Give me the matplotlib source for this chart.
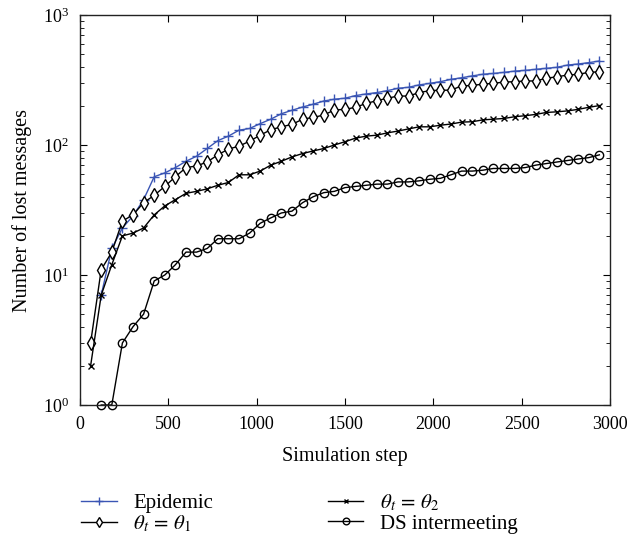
import numpy as np
import matplotlib
matplotlib.use("Agg")
import matplotlib.pyplot as plt

plt.rcParams['font.family'] = ['Liberation Serif', 'DejaVu Serif']
plt.rcParams['mathtext.fontset'] = 'stix'

steps = np.arange(60, 2941, 60)

epidemic = [np.nan, 7, 16, 23, 28.5, 38, 57, 61, 67, 75,
            82, 94, 108, 117, 130, 134, 146, 158, 174, 185,
            196, 206, 218, 225, 229, 240, 247, 253, 262, 273,
            278, 290, 298, 307, 320, 329, 340, 350, 355, 362,
            370, 375, 382, 389, 396, 412, 420, 430, 443]

theta1 = [3, 11, 15, 26, 29, 36, 41, 48, 57, 67,
          69, 74, 84, 93, 98, 107, 119, 131, 138, 144,
          158, 163, 170, 186, 188, 195, 209, 219, 229, 238,
          238, 253, 262, 264, 264, 285, 287, 294, 298, 305,
          307, 311, 311, 326, 335, 345, 350, 362, 366]

theta2 = [2, 7, 12, 20, 21, 23, 29, 34, 38, 42.5,
          44, 46, 49, 51.5, 59, 59, 63, 70, 75, 81,
          86, 90, 94, 100, 106, 113, 117, 119, 124, 128,
          133, 138, 138, 142, 145, 150, 151, 156, 158, 160,
          165, 168, 172, 178, 180, 183, 188, 195, 201]

ds_inter = [np.nan, 1, 1, 3, 4, 5, 9, 10, 12, 15,
            15, 16, 19, 19, 19, 21, 25, 27.5, 30, 31,
            36, 40, 43, 44, 47, 48, 49, 50, 50, 52,
            52, 53, 54.5, 55.4, 59, 63, 63, 64, 66, 66,
            66, 67, 70, 72, 74, 76, 78, 80, 84]

labels = ['Epidemic', r'$\theta_t\,=\,\theta_1$', r'$\theta_t\,=\,\theta_2$', 'DS intermeeting']

fig = plt.figure(figsize=(6.3, 5.42), dpi=100)
ax = fig.add_axes([80/630, 1-405/542, 530/630, 390/542])

blue = '#3a55b4'
l1, = ax.plot(steps, epidemic, color=blue, marker='+', ms=6.5, mew=1.0, lw=1.0, label=labels[0])
l2, = ax.plot(steps, theta1, color='black', marker='d', ms=7, mfc='white', mew=1.0, lw=1.0, label=labels[1])
l3, = ax.plot(steps, theta2, color='black', marker='x', ms=4, mew=1.0, lw=1.0, label=labels[2])
l4, = ax.plot(steps, ds_inter, color='black', marker='o', ms=6, mfc='none', mew=1.0, lw=1.0, label=labels[3], clip_on=False)

ax.set_yscale('log')
ax.set_xlim(0, 3000)
ax.set_ylim(1, 1000)
ax.set_xticks(np.arange(0, 3001, 500))
ax.tick_params(axis='both', which='both', direction='in', top=True, right=True, labelsize=13)
ax.tick_params(axis='both', which='major', length=5)
ax.tick_params(axis='both', which='minor', length=3)
ax.tick_params(axis='x', which='major', pad=8)
ax.tick_params(axis='y', which='major', pad=8)
ax.set_xlabel('Simulation step', fontsize=14.5, labelpad=10)
ax.set_ylabel('Number of lost messages', fontsize=14.5, labelpad=8)
for s in ax.spines.values():
    s.set_linewidth(1.0)
    s.set_color('#222222')

fig.legend(handles=[l1, l2, l3, l4], loc='upper left', bbox_to_anchor=(73/630, 1-484/542),
           ncol=2, frameon=False, fontsize=15, handlelength=1.7, markerscale=0.8,
           columnspacing=5.5, labelspacing=0.05, handletextpad=0.8, borderaxespad=0)

fig.savefig('out.png', dpi=100)
